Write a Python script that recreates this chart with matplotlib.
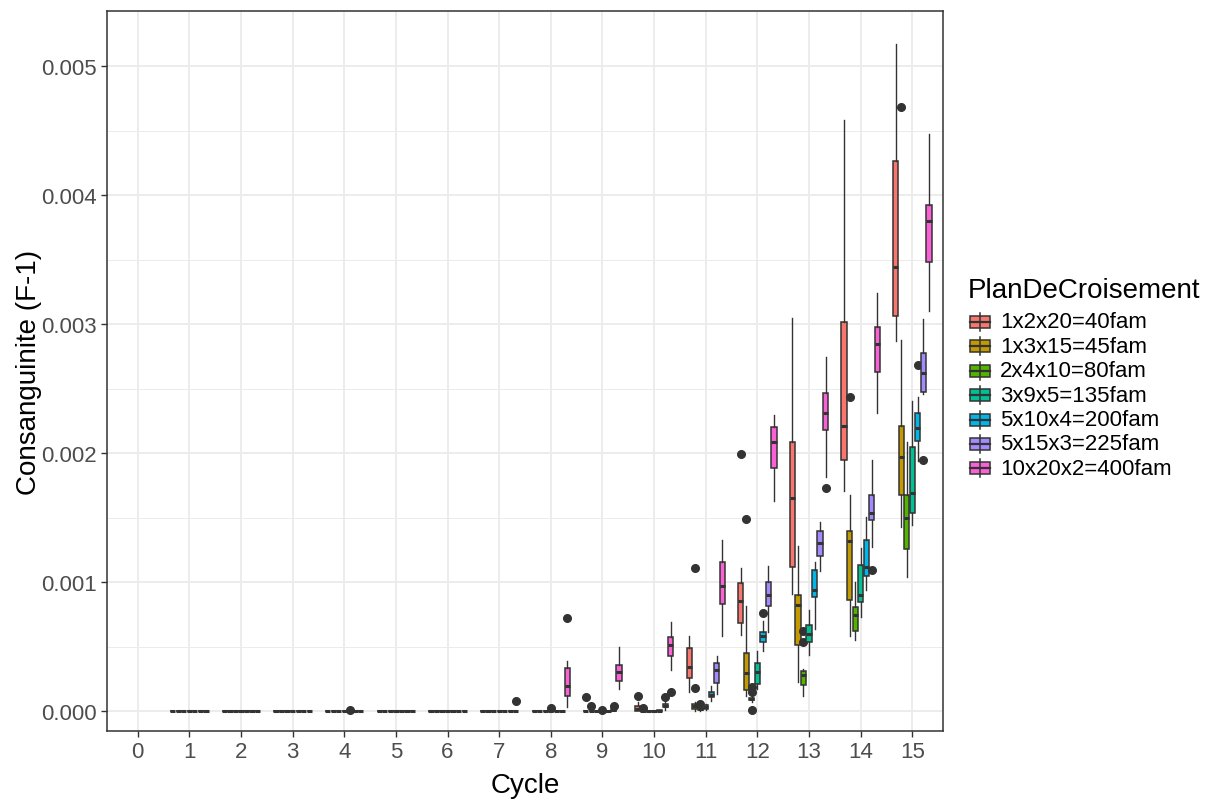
import matplotlib
matplotlib.use("Agg")
import matplotlib.pyplot as plt
from matplotlib.patches import Rectangle
from matplotlib.lines import Line2D
from matplotlib.ticker import MultipleLocator, FormatStrFormatter

plt.rcParams["font.family"] = ["Liberation Sans", "DejaVu Sans"]

# ---- data (values in units of 1e-3) ----
cycles = list(range(1, 16))
plans = ["1x2x20=40fam", "1x3x15=45fam", "2x4x10=80fam", "3x9x5=135fam",
         "5x10x4=200fam", "5x15x3=225fam", "10x20x2=400fam"]
colors = ["#F8766D", "#C49A00", "#53B400", "#00C094", "#00B6EB", "#A58AFF", "#FB61D7"]

Z = (0, 0, 0, 0, 0)
# one row per cycle 1..15 : whisker low, q1, median, q3, whisker high
box_40fam = [Z, Z, Z, Z, Z, Z, Z, Z, Z,
             (0, 0.005, 0.02, 0.039, 0.07),
             (0.152, 0.256, 0.341, 0.488, 0.581),
             (0.594, 0.682, 0.853, 0.992, 1.111),
             (0.909, 1.116, 1.653, 2.085, 3.047),
             (1.71, 1.948, 2.214, 3.02, 4.584),
             (2.873, 3.062, 3.442, 4.268, 5.174)]
box_45fam = [Z, Z, Z, Z, Z, Z, Z, Z, Z, Z,
             (0.005, 0.02, 0.04, 0.056, 0.07),
             (0.121, 0.165, 0.295, 0.454, 0.819),
             (0.229, 0.516, 0.826, 0.904, 1.284),
             (0.581, 0.865, 1.322, 1.40, 1.677),
             (1.426, 1.679, 1.974, 2.214, 2.881)]
box_80fam = [Z, Z, Z, Z, Z, Z, Z, Z, Z, Z,
             (0, 0.01, 0.02, 0.04, 0.05),
             (0.07, 0.085, 0.095, 0.105, 0.12),
             (0.121, 0.204, 0.284, 0.315, 0.33),
             (0.553, 0.62, 0.747, 0.811, 1.0),
             (1.039, 1.258, 1.498, 1.679, 2.085)]
box_135fam = [Z, Z, Z, Z, Z, Z, Z, Z, Z, Z,
              (0.01, 0.02, 0.035, 0.05, 0.06),
              (0.173, 0.212, 0.302, 0.374, 0.47),
              (0.436, 0.54, 0.599, 0.669, 0.788),
              (0.733, 0.845, 0.902, 1.136, 1.266),
              (1.444, 1.537, 1.692, 2.046, 2.408)]
box_200fam = [Z, Z, Z, Z, Z, Z, Z, Z, Z,
              (0, 0.002, 0.005, 0.008, 0.01),
              (0.08, 0.108, 0.125, 0.147, 0.198),
              (0.47, 0.535, 0.581, 0.612, 0.702),
              (0.638, 0.888, 0.94, 1.095, 1.155),
              (0.94, 1.051, 1.116, 1.328, 1.504),
              (1.943, 2.098, 2.194, 2.312, 2.434)]
box_225fam = [Z, Z, Z, Z, Z, Z, Z, Z,
              (0, 0.005, 0.01, 0.02, 0.03),
              (0.01, 0.03, 0.04, 0.056, 0.07),
              (0.134, 0.219, 0.32, 0.374, 0.426),
              (0.612, 0.814, 0.902, 1.0, 1.129),
              (1.09, 1.206, 1.302, 1.40, 1.47),
              (1.271, 1.483, 1.535, 1.679, 1.948),
              (2.46, 2.478, 2.62, 2.775, 3.043)]
box_400fam = [Z, Z, Z, Z, Z, Z, Z,
              (0.031, 0.116, 0.194, 0.336, 0.392),
              (0.173, 0.237, 0.302, 0.359, 0.50),
              (0.32, 0.426, 0.514, 0.578, 0.695),
              (0.586, 0.832, 0.969, 1.16, 1.33),
              (1.633, 1.886, 2.085, 2.201, 2.297),
              (1.819, 2.183, 2.31, 2.467, 2.749),
              (2.312, 2.633, 2.847, 2.977, 3.243),
              (3.105, 3.481, 3.798, 3.927, 4.477)]
boxes = [box_40fam, box_45fam, box_80fam, box_135fam, box_200fam, box_225fam, box_400fam]

# outliers: (cycle, plan index, value)
outliers = [(4, 4, 0.012), (7, 6, 0.078), (8, 3, 0.026), (8, 6, 0.721),
            (9, 0, 0.113), (9, 1, 0.041), (9, 3, 0.01), (9, 5, 0.044),
            (10, 0, 0.116), (10, 1, 0.026), (10, 5, 0.108), (10, 6, 0.152),
            (11, 1, 1.109), (11, 1, 0.183), (11, 2, 0.057),
            (12, 0, 1.995), (12, 1, 1.49), (12, 2, 0.186), (12, 2, 0.152), (12, 2, 0.012),
            (12, 4, 0.76), (13, 2, 0.625), (13, 2, 0.535), (13, 6, 1.729),
            (14, 1, 2.434), (14, 5, 1.098), (15, 1, 4.687), (15, 4, 2.684), (15, 5, 1.95)]

# ---- figure ----
W, H = 1213, 803
fig = plt.figure(figsize=(W / 100, H / 100), dpi=100)
ax = fig.add_axes([106.7 / W, 1 - 732 / H, (943.3 - 106.7) / W, (732 - 12) / H])

EDGE = "#333333"
slot = 0.75 / 7
for gi, rows in enumerate(boxes):
    stats = []
    pos = []
    for c, (lo, q1, med, q3, hi) in zip(cycles, rows):
        fl = [v * 1e-3 for (oc, og, v) in outliers if oc == c and og == gi]
        stats.append({"whislo": lo * 1e-3, "q1": q1 * 1e-3, "med": med * 1e-3,
                      "q3": q3 * 1e-3, "whishi": hi * 1e-3, "fliers": fl})
        pos.append(c + (gi - 3) * slot)
    ax.bxp(stats, positions=pos, widths=slot * 0.95, patch_artist=True,
           showcaps=False, manage_ticks=False,
           boxprops=dict(facecolor=colors[gi], edgecolor=EDGE, linewidth=1.1),
           medianprops=dict(color=EDGE, linewidth=2.2, solid_capstyle="butt"),
           whiskerprops=dict(color=EDGE, linewidth=1.0),
           flierprops=dict(marker="o", markerfacecolor=EDGE, markeredgecolor=EDGE,
                           markersize=5.5))

ax.set_xlim(-0.6, 15.6)
ax.set_ylim(-0.000153, 0.00543)
ax.set_xticks(range(0, 16))
ax.set_xticklabels([str(i) for i in range(0, 16)])
ax.yaxis.set_major_locator(MultipleLocator(0.001))
ax.yaxis.set_minor_locator(MultipleLocator(0.0005))
ax.yaxis.set_major_formatter(FormatStrFormatter("%.3f"))
ax.grid(True, which="major", color="#EBEBEB", linewidth=1.3)
ax.grid(True, which="minor", axis="y", color="#EBEBEB", linewidth=0.7)
ax.set_axisbelow(True)
ax.tick_params(which="major", length=4, width=1, color=EDGE, labelsize=16,
               labelcolor="#4D4D4D", pad=3)
ax.tick_params(which="minor", length=0)
for s in ax.spines.values():
    s.set_color(EDGE)
    s.set_linewidth(1.1)

fig.text(29 / W, 1 - 372 / H, "Consanguinite (F-1)", rotation=90,
         ha="center", va="center", fontsize=20, color="black")
fig.text(525 / W, 1 - 786 / H, "Cycle", ha="center", va="center",
         fontsize=20, color="black")

# ---- legend ----
fig.text(968 / W, 1 - 291 / H, "PlanDeCroisement", ha="left", va="center",
         fontsize=20, color="black")
for i, (name, col) in enumerate(zip(plans, colors)):
    yc = 323 + i * 24.4
    xc = 979.5
    fig.add_artist(Line2D([xc / W, xc / W], [1 - (yc - 9) / H, 1 - (yc + 9) / H],
                          color=EDGE, linewidth=1.1, transform=fig.transFigure))
    fig.add_artist(Rectangle((970 / W, 1 - (yc + 6) / H), 19.5 / W, 12 / H,
                             facecolor=col, edgecolor=EDGE, linewidth=1.1,
                             transform=fig.transFigure))
    fig.add_artist(Line2D([970 / W, 989.5 / W], [1 - yc / H, 1 - yc / H],
                          color=EDGE, linewidth=1.6, transform=fig.transFigure))
    fig.text(1000 / W, 1 - yc / H, name, ha="left", va="center", fontsize=16,
             color="black")

fig.savefig("out.png", dpi=100)
